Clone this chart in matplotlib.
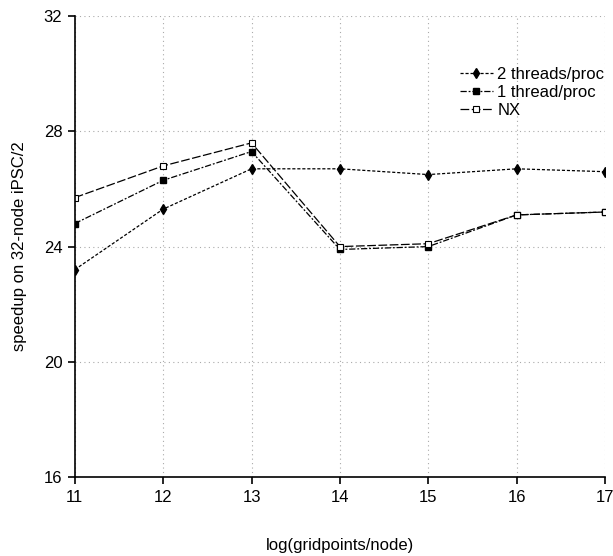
import matplotlib
matplotlib.use('Agg')
import matplotlib.pyplot as plt

plt.rcParams['font.family'] = ['Liberation Sans', 'DejaVu Sans']

# dữ liệu
x = [11, 12, 13, 14, 15, 16, 17]
two_threads = [23.2, 25.3, 26.7, 26.7, 26.5, 26.7, 26.6]
one_thread = [24.8, 26.3, 27.3, 23.9, 24.0, 25.1, 25.2]
nx = [25.7, 26.8, 27.6, 24.0, 24.1, 25.1, 25.2]

xticks = [11, 12, 13, 14, 15, 16, 17]
yticks = [16, 20, 24, 28, 32]

fig = plt.figure(figsize=(6.13, 5.56), dpi=100)
ax = fig.add_axes([0.122, 0.142, 0.865, 0.829])

ax.plot(x, two_threads, color='black', lw=0.9, linestyle=(0, (2.5, 1.5)),
        marker='d', markersize=5, markerfacecolor='black', label='2 threads/proc')
ax.plot(x, one_thread, color='black', lw=0.9, linestyle=(0, (5, 1.5, 1.5, 1.5)),
        marker='s', markersize=5, markerfacecolor='black', label='1 thread/proc')
ax.plot(x, nx, color='black', lw=0.9, linestyle=(0, (7, 2)),
        marker='s', markersize=5, markerfacecolor='white', markeredgewidth=0.8, label='NX')

ax.set_xlim(11, 17)
ax.set_ylim(16, 32)
ax.set_xticks(xticks)
ax.set_yticks(yticks)
ax.grid(True, color='#aaaaaa', linestyle=(0, (1, 3)), lw=0.8)
ax.spines['top'].set_visible(False)
ax.spines['right'].set_visible(False)
ax.spines['left'].set_linewidth(1.2)
ax.spines['bottom'].set_linewidth(1.2)
ax.tick_params(labelsize=12, direction='out', length=5, width=1.2, pad=4)

ax.set_xlabel('log(gridpoints/node)', fontsize=12, labelpad=24)
ax.set_ylabel('speedup on 32-node iPSC/2', fontsize=12, labelpad=12)

ax.legend(loc='upper left', bbox_to_anchor=(0.726, 0.889), frameon=False, fontsize=12,
          handlelength=2.0, handletextpad=0.25, labelspacing=0.18, borderaxespad=0,
          borderpad=0)

fig.savefig('out.png', dpi=100)
